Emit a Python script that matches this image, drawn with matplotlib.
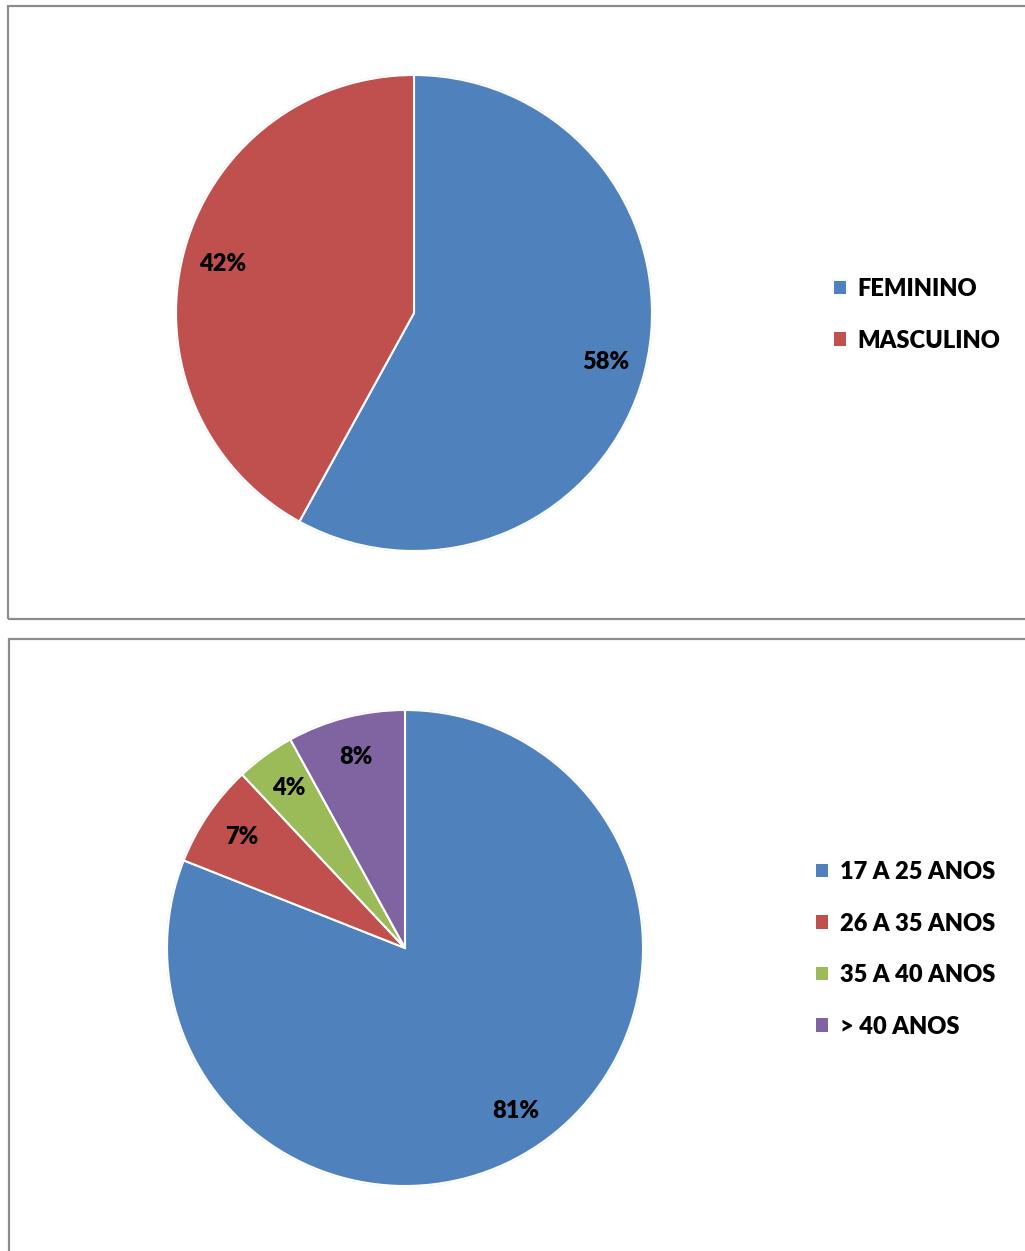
import matplotlib
matplotlib.use('Agg')
import matplotlib.pyplot as plt
from matplotlib.patches import Rectangle, Patch

plt.rcParams['font.family'] = ['Lato', 'DejaVu Sans']

# dados
sexo_labels = ['FEMININO', 'MASCULINO']
sexo_valores = [58, 42]

idade_labels = ['17 A 25 ANOS', '26 A 35 ANOS', '35 A 40 ANOS', '> 40 ANOS']
idade_valores = [81, 7, 4, 8]

cores = ['#4F81BD', '#C0504D', '#9BBB59', '#8064A2']

W, H = 1025, 1251
fig = plt.figure(figsize=(W / 100, H / 100), dpi=100)
fig.patch.set_facecolor('white')


def caixa(x0, y0, x1, y1):
    # x/y em pixels, y a partir do topo
    r = Rectangle((x0 / W, 1 - y1 / H), (x1 - x0) / W, (y1 - y0) / H,
                  transform=fig.transFigure, fill=False,
                  edgecolor='#8c8c8c', linewidth=1.6)
    fig.add_artist(r)


caixa(8, 6, 1030, 619)
caixa(9, 639, 1030, 1260)


def pizza(cx, cy, valores, labels, leg_x, leg_y):
    R = 238
    ax = fig.add_axes([(cx - R) / W, 1 - (cy + R) / H, 2 * R / W, 2 * R / H])
    wedges, textos, pcts = ax.pie(
        valores, colors=cores[:len(valores)], startangle=90, counterclock=False,
        autopct='%1.0f%%', pctdistance=0.83,
        wedgeprops=dict(edgecolor='white', linewidth=1.5),
        textprops=dict(fontsize=17, fontweight='heavy', color='black'))
    ax.add_patch(plt.Circle((0, 0), 1.0, fill=False, edgecolor='#d0d0d0', linewidth=1.5, zorder=0))
    ax.set_xlim(-1.0, 1.0)
    ax.set_ylim(-1.0, 1.0)
    ax.set_aspect('equal')
    ax.axis('off')

    handles = [Patch(facecolor=c, edgecolor='none') for c in cores[:len(valores)]]
    fig.legend(handles, labels, loc='upper left',
               bbox_to_anchor=(leg_x / W, 1 - leg_y / H),
               frameon=False, handlelength=0.5, handleheight=0.5,
               handletextpad=0.5, labelspacing=1.25, borderaxespad=0, borderpad=0,
               prop=dict(size=17, weight='heavy'))
    return ax


pizza(414, 313, sexo_valores, sexo_labels, 834, 278)
pizza(405, 948, idade_valores, idade_labels, 816, 861)

fig.savefig('out.png', dpi=100, facecolor='white')
